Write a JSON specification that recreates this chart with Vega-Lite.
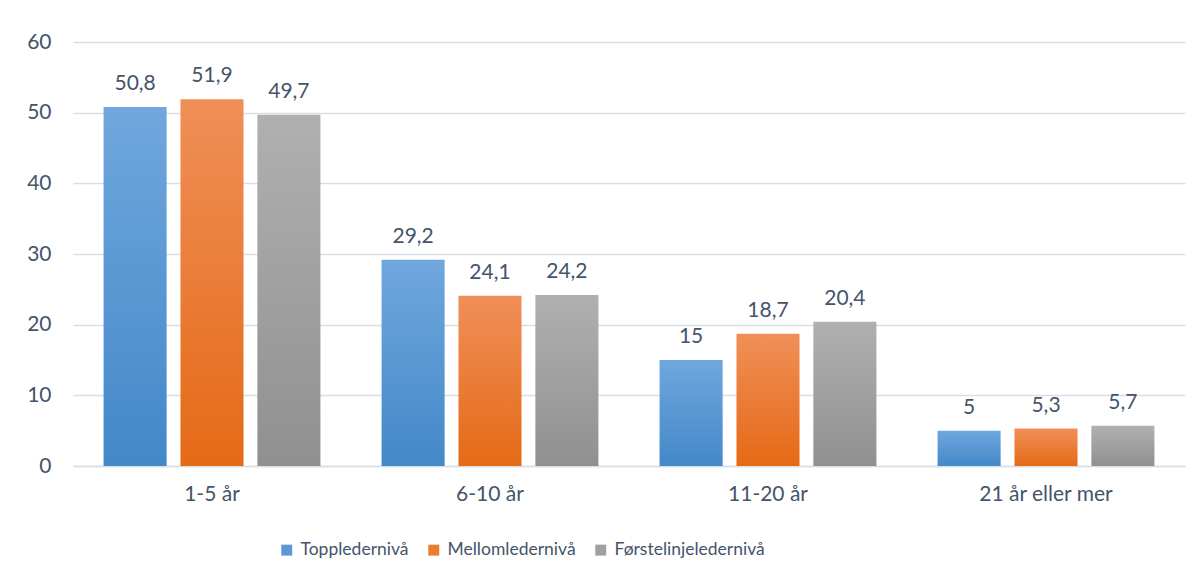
{
  "$schema": "https://vega.github.io/schema/vega-lite/v6.json",
  "width": 1112,
  "height": 424,
  "autosize": "none",
  "padding": {"left": 73, "top": 42, "right": 15, "bottom": 117},
  "background": "white",
  "config": {
    "locale": {"number": {"decimal": ",", "thousands": " ", "grouping": [3], "currency": ["", " kr"]}},
    "font": "Lato",
    "view": {"stroke": null}
  },
  "data": {
    "values": [
      {"cat": "1-5 år", "series": "Toppledernivå", "value": 50.8},
      {"cat": "1-5 år", "series": "Mellomledernivå", "value": 51.9},
      {"cat": "1-5 år", "series": "Førstelinjeledernivå", "value": 49.7},
      {"cat": "6-10 år", "series": "Toppledernivå", "value": 29.2},
      {"cat": "6-10 år", "series": "Mellomledernivå", "value": 24.1},
      {"cat": "6-10 år", "series": "Førstelinjeledernivå", "value": 24.2},
      {"cat": "11-20 år", "series": "Toppledernivå", "value": 15},
      {"cat": "11-20 år", "series": "Mellomledernivå", "value": 18.7},
      {"cat": "11-20 år", "series": "Førstelinjeledernivå", "value": 20.4},
      {"cat": "21 år eller mer", "series": "Toppledernivå", "value": 5},
      {"cat": "21 år eller mer", "series": "Mellomledernivå", "value": 5.3},
      {"cat": "21 år eller mer", "series": "Førstelinjeledernivå", "value": 5.7}
    ]
  },
  "encoding": {
    "x": {
      "field": "cat", "type": "nominal",
      "sort": ["1-5 år", "6-10 år", "11-20 år", "21 år eller mer"],
      "scale": {"paddingInner": 0.22, "paddingOuter": 0.11},
      "axis": {
        "title": null, "labelAngle": 0, "ticks": false,
        "domainColor": "#d9dee6", "domainWidth": 1.5,
        "labelFontSize": 21, "labelColor": "#44546a", "labelPadding": 17
      }
    },
    "xOffset": {
      "field": "series", "type": "nominal",
      "sort": ["Toppledernivå", "Mellomledernivå", "Førstelinjeledernivå"],
      "scale": {"paddingInner": 0.18, "paddingOuter": 0}
    },
    "y": {
      "field": "value", "type": "quantitative",
      "scale": {"domain": [0, 60]},
      "axis": {
        "title": null, "values": [0, 10, 20, 30, 40, 50, 60],
        "domain": false, "ticks": false,
        "gridColor": "#d9dee6", "gridWidth": 1.5,
        "labelFontSize": 21, "labelColor": "#44546a", "labelPadding": 22
      }
    }
  },
  "layer": [
    {
      "mark": {"type": "bar"},
      "encoding": {
        "fill": {
          "field": "series", "type": "nominal",
          "sort": ["Toppledernivå", "Mellomledernivå", "Førstelinjeledernivå"],
          "scale": {
            "domain": ["Toppledernivå", "Mellomledernivå", "Førstelinjeledernivå"],
            "range": ["#5b98d4", "#ec7c30", "#a0a0a0"]
          },
          "legend": {
            "title": null, "orient": "none", "direction": "horizontal",
            "legendX": 205, "legendY": 499,
            "symbolType": "square", "symbolSize": 120, "symbolStrokeWidth": 0,
            "labelFontSize": 17.5, "labelColor": "#44546a", "labelOffset": 5,
            "labelLimit": 300, "columnPadding": 16
          },
          "condition": [
            {"test": "datum.series === 'Toppledernivå'", "value": {"gradient": "linear", "x1": 0, "y1": 0, "x2": 0, "y2": 1, "stops": [{"offset": 0, "color": "#70a7dd"}, {"offset": 1, "color": "#4388c9"}]}},
            {"test": "datum.series === 'Mellomledernivå'", "value": {"gradient": "linear", "x1": 0, "y1": 0, "x2": 0, "y2": 1, "stops": [{"offset": 0, "color": "#f08f58"}, {"offset": 1, "color": "#e46a16"}]}},
            {"test": "datum.series === 'Førstelinjeledernivå'", "value": {"gradient": "linear", "x1": 0, "y1": 0, "x2": 0, "y2": 1, "stops": [{"offset": 0, "color": "#b0b0b0"}, {"offset": 1, "color": "#909090"}]}}
          ]
        }
      }
    },
    {
      "mark": {"type": "text", "baseline": "alphabetic", "dy": -17, "fontSize": 21, "color": "#44546a"},
      "encoding": {
        "text": {"field": "value", "type": "quantitative", "format": ".1~f"}
      }
    }
  ]
}
